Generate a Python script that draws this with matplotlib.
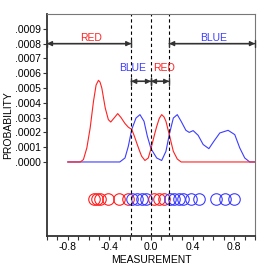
import numpy as np
import matplotlib
matplotlib.use('Agg')
import matplotlib.pyplot as plt

plt.rcParams['font.family'] = ['Liberation Sans', 'DejaVu Sans']

# densidad RED (y en unidades de 1e-4)
red_x = [-0.8, -0.68, -0.65, -0.617, -0.585, -0.553, -0.528, -0.505, -0.49, -0.473, -0.44,
         -0.41, -0.387, -0.355, -0.32, -0.288, -0.25, -0.218, -0.185, -0.16, -0.137, -0.11,
         -0.09, -0.058, -0.026, 0.0, 0.038, 0.055, 0.08, 0.103, 0.125, 0.144, 0.176, 0.215,
         0.253, 0.29, 1.0]
red_y = [0, 0, 0.16, 0.95, 2.3, 4.1, 5.2, 5.52, 5.4, 5.0, 3.65,
         2.86, 2.7, 2.97, 3.27, 3.0, 2.6, 2.35, 2.2, 1.75, 1.28, 0.75,
         0.39, 0.1, 0.27, 0.9, 1.96, 2.4, 2.95, 3.2, 3.05, 2.75, 1.85, 0.72,
         0.2, 0.0, 0]

# densidad BLUE
blue_x = [-0.8, -0.30, -0.25, -0.218, -0.185, -0.144, -0.106, -0.067, -0.035, 0.0, 0.055,
          0.103, 0.144, 0.176, 0.215, 0.253, 0.29, 0.336, 0.368, 0.406, 0.454, 0.502,
          0.557, 0.605, 0.662, 0.742, 0.806, 0.854, 0.902, 0.95, 1.0]
blue_y = [0, 0, 0.27, 1.06, 2.2, 2.97, 3.2, 2.75, 1.74, 0.9, 0.27,
          0.1, 0.72, 1.85, 2.97, 3.2, 2.75, 2.14, 2.0, 2.12, 1.8, 1.18,
          0.9, 1.4, 1.96, 2.14, 1.85, 0.95, 0.27, 0, 0]

# mediciones individuales
red_pts = [-0.55, -0.52, -0.49, -0.41, -0.31, -0.22, 0.03, 0.08, 0.13]
blue_pts = [-0.185, -0.137, -0.089, -0.048, 0.18, 0.226, 0.266, 0.304, 0.384, 0.464,
            0.624, 0.71, 0.797]

# fronteras de decision
limites = [-0.19, 0.0, 0.175]

RED = '#ff2020'
BLUE = '#3c3cff'
GRIS = '#333333'

fig = plt.figure(figsize=(2.75, 2.75), dpi=100)
ax = fig.add_axes([0.171, 0.142, 0.756, 0.807])

ax.plot(blue_x, np.array(blue_y) * 1e-4, color=BLUE, lw=0.8)
ax.plot(red_x, np.array(red_y) * 1e-4, color=RED, lw=0.8)

y_pts = -0.00025
ax.plot(red_pts, [y_pts] * len(red_pts), 'o', mfc='none', mec=RED, ms=8.3, mew=0.8)
ax.plot(blue_pts, [y_pts] * len(blue_pts), 'o', mfc='none', mec=BLUE, ms=8.3, mew=0.8)

for b in limites:
    ax.axvline(b, color='black', ls=(0, (3, 2.5)), lw=0.8)

def flecha(x0, x1, y):
    ax.annotate('', xy=(x0, y), xytext=(x1, y),
                arrowprops=dict(arrowstyle='<|-|>', color=GRIS, lw=1.0,
                                shrinkA=0, shrinkB=0, mutation_scale=7))
    ax.annotate('', xy=(x0, y), xytext=(x1, y),
                arrowprops=dict(arrowstyle='|-|,widthA=0.25,widthB=0.25', color=GRIS,
                                lw=1.0, shrinkA=0, shrinkB=0))

flecha(-1.0, limites[0], 0.0008)
flecha(limites[2], 1.0, 0.0008)
flecha(limites[0], limites[1], 0.000545)
flecha(limites[1], limites[2], 0.000545)

ax.text(-0.58, 0.00084, 'RED', color=RED, fontsize=7.5, ha='center', va='center')
ax.text(0.6, 0.00084, 'BLUE', color=BLUE, fontsize=7.5, ha='center', va='center')
ax.text(-0.18, 0.000635, 'BLUE', color=BLUE, fontsize=7.5, ha='center', va='center')
ax.text(0.13, 0.000635, 'RED', color=RED, fontsize=7.5, ha='center', va='center')

ax.set_xlim(-1.0, 1.0)
ax.set_ylim(-0.0005, 0.001)

xt = np.round(np.arange(-1.0, 1.01, 0.1), 2)
etiquetas = {-0.8: '-0.8', -0.4: '-0.4', 0.0: '0.0', 0.4: '0.4', 0.8: '0.8'}
ax.set_xticks(xt)
ax.set_xticklabels([etiquetas.get(round(float(t), 1), '') for t in xt])
yt = np.arange(0, 10) * 1e-4
ax.set_yticks(yt)
ax.set_yticklabels(['.%04d' % i for i in range(10)])
ax.tick_params(labelsize=7.5, length=3, width=0.8, color=GRIS, pad=1.5)

for s in ['left', 'bottom']:
    ax.spines[s].set_color(GRIS)
    ax.spines[s].set_linewidth(1.3)
for s in ['top', 'right']:
    ax.spines[s].set_color('#777777')
    ax.spines[s].set_linewidth(0.8)

ax.set_xlabel('MEASUREMENT', fontsize=7.5, labelpad=2)
ax.set_ylabel('PROBABILITY', fontsize=7.5, labelpad=1)

fig.savefig('out.png', dpi=100)
